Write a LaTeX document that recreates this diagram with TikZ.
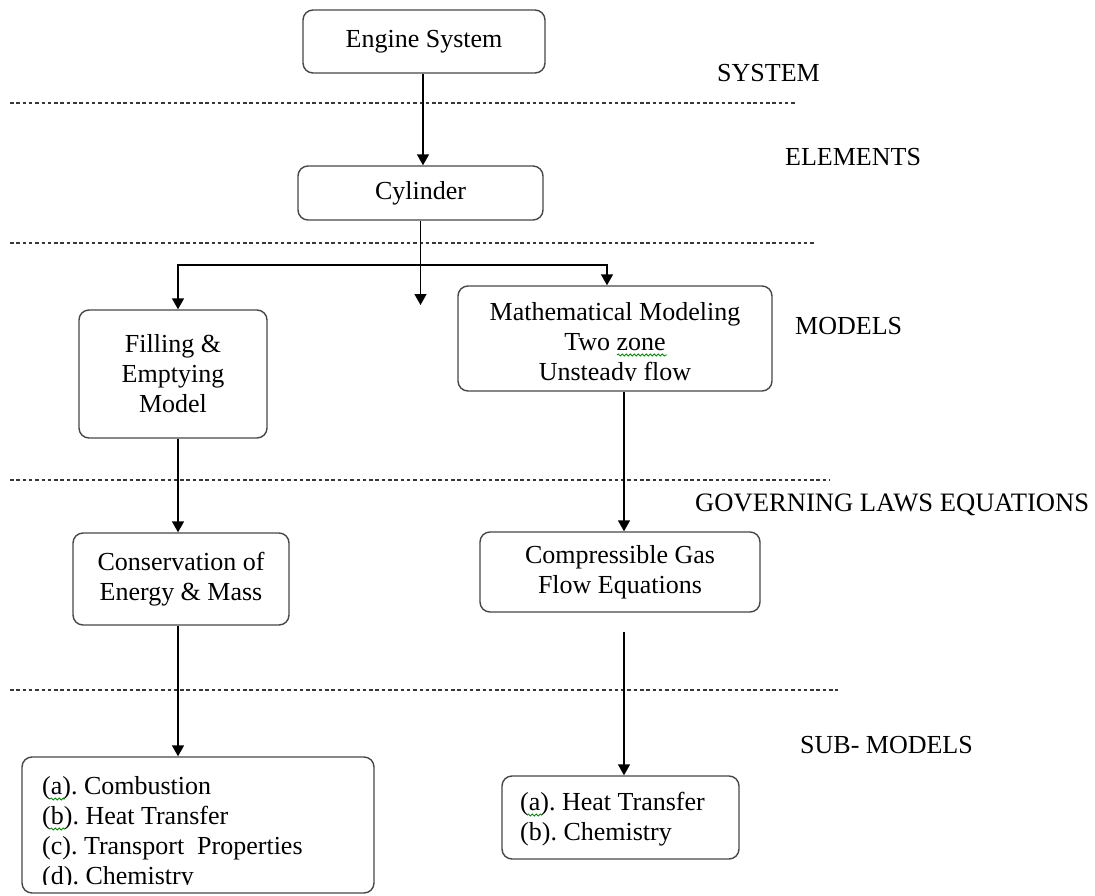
\documentclass[tikz,border=0pt]{standalone}
\usepackage{fontspec}
\setmainfont{Liberation Serif}
\usetikzlibrary{arrows.meta,decorations.pathmorphing}
\frenchspacing
\begin{document}
\begin{tikzpicture}[x=1pt,y=-1pt,
 box/.style={draw=black!72, line width=1.4pt, rounded corners=10pt, inner sep=0pt, font=\fontsize{26}{30}\selectfont, align=center},
 txt/.style={font=\fontsize{26}{30}\selectfont, inner sep=0pt},
 lbl/.style={font=\fontsize{26}{30}\selectfont, inner sep=0pt, anchor=west},
 arr/.style={line width=1.5pt, -{Triangle[width=12pt,length=11pt]}},
 sep/.style={line width=1.4pt, dash pattern=on 3.5pt off 2.8pt, draw=black!78},
 squig/.style={draw=green!55!black, line width=0.8pt, decorate, decoration={snake,amplitude=1.1pt,segment length=4pt}}
]
\useasboundingbox (0,0) rectangle (1095,896);

% separators
\draw[sep] (10,103) -- (795,103);
\draw[sep] (10,243) -- (815,243);
\draw[sep] (10,480) -- (830,480);
\draw[sep] (10,690) -- (838,690);

% level labels
\node[lbl] (lsys) at (717,73) {SYSTEM};
\node[lbl] (lele) at (785,157) {ELEMENTS};
\node[lbl] (lmod) at (795,326) {MODELS};
\node[lbl, font=\fontsize{26.6}{30}\selectfont] (lgov) at (695,505) {GOVERNING LAWS EQUATIONS};
\node[lbl] (lsub) at (800,745) {SUB- MODELS};

% boxes
\node[box, minimum width=242pt, minimum height=63pt] (eng) at (424,41.5) {Engine System};
\node[box, minimum width=245pt, minimum height=54pt] (cyl) at (420.5,193) {Cylinder};
\node[box, minimum width=188pt, minimum height=128pt] (fill) at (173,374) {Filling \&\\Emptying\\Model};
\node[box, minimum width=314pt, minimum height=105pt] (math) at (615,338.5) {};
\node[box, minimum width=216pt, minimum height=92pt] (cons) at (181,579) {Conservation of\\Energy \& Mass};
\node[box, minimum width=280pt, minimum height=80pt] (comp) at (620,572) {Compressible Gas\\Flow Equations};
\node[box, minimum width=352pt, minimum height=136pt] (bl) at (198,825) {};
\node[box, minimum width=237pt, minimum height=83pt] (br) at (620.5,817.5) {};

% clipped texts
\begin{scope}
\clip (460,288) rectangle (770,380);
\node[txt, anchor=north, align=center] (mathtext) at (615,302) {Mathematical Modeling\\Two zone\\Unsteady flow};
\end{scope}
\begin{scope}
\clip (24,759) rectangle (372,884);
\node[txt, anchor=north west, align=left] (bltext) at (42,776) {(a). Combustion\\(b). Heat Transfer\\(c). Transport\ \ Properties\\(d). Chemistry};
\end{scope}
\node[txt, anchor=north west, align=left] (brtext) at (520,792) {(a). Heat Transfer\\(b). Chemistry};

% spell-check squiggles
\draw[squig] (617,355) -- (667,355);
\draw[squig] (50,799) -- (65,799);
\draw[squig] (50,829) -- (65,829);
\draw[squig] (527,815) -- (542,815);

% connectors
\coordinate (fa) at (178,0);
\coordinate (ma) at (607,0);
\coordinate (ca) at (624,0);
\coordinate (bar) at (420.5,265);
\coordinate (cylend) at (420.5,305);
\coordinate (cstart) at (624,632);

\draw[arr] (eng.south -| 423,0) -- (cyl.north -| 423,0);
\draw[arr] (cyl.south) -- (cylend);
\draw[arr] (bar) -| (fa |- fill.north);
\draw[arr] (bar) -| (ma |- math.north);
\draw[arr] (fa |- fill.south) -- (fa |- cons.north);
\draw[arr] (ca |- math.south) -- (ca |- comp.north);
\draw[arr] (fa |- cons.south) -- (fa |- bl.north);
\draw[arr] (cstart) -- (ca |- br.north);
\end{tikzpicture}
\end{document}
